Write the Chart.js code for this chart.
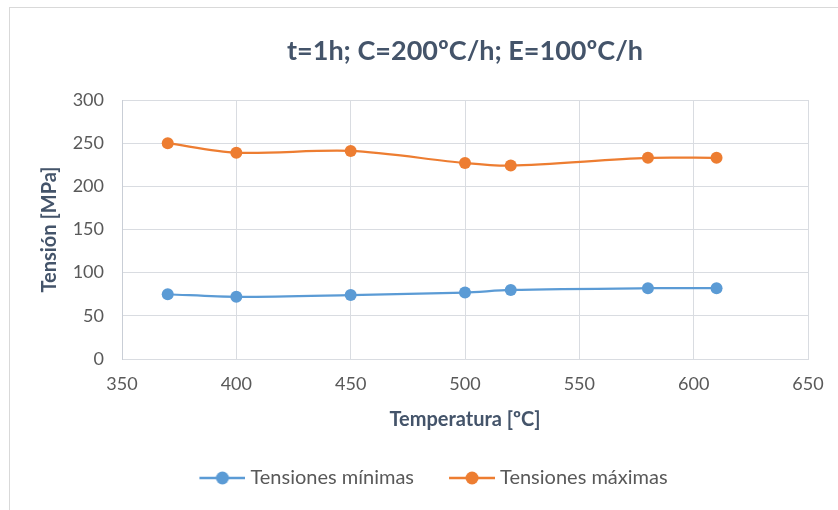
<!DOCTYPE html>
<html>
<head>
<meta charset="utf-8">
<script src="https://cdn.jsdelivr.net/npm/chart.js@4"></script>
<style>
  html, body { margin: 0; padding: 0; background: #fff; }
  #wrap { position: relative; width: 838px; height: 510px; }
  #frame { position: absolute; left: 9px; top: 7px; width: 840px; height: 510px; border: 1px solid #d9d9d9; box-sizing: border-box; pointer-events: none; }
</style>
</head>
<body>
<div id="wrap">
  <canvas id="chart" width="838" height="510"></canvas>
  <div id="frame"></div>
</div>
<script>
// temperaturas y tensiones
const temps = [370, 400, 450, 500, 520, 580, 610];
const tensMin = [75, 72, 74, 77, 80, 82, 82];
const tensMax = [250, 239, 241, 227, 224, 233, 233];

const chartTitle = "t=1h; C=200ºC/h; E=100ºC/h";
const blue = "#5b9bd5";
const orange = "#ed7d31";
const font = "Lato";
const gridColor = "#d9dce1";

// simbolo de leyenda: linea con circulo (con margen transparente a la izquierda)
const iconGap = 26;
function legendIcon(color) {
  const c = document.createElement("canvas");
  c.width = 46 + iconGap;
  c.height = 14;
  const g = c.getContext("2d");
  g.strokeStyle = color;
  g.lineWidth = 2.5;
  g.beginPath();
  g.moveTo(iconGap, 7);
  g.lineTo(iconGap + 46, 7);
  g.stroke();
  g.fillStyle = color;
  g.beginPath();
  g.arc(iconGap + 23, 7, 6.5, 0, Math.PI * 2);
  g.fill();
  return c;
}

function toPoints(xs, ys) {
  return xs.map((x, i) => ({ x: x, y: ys[i] }));
}

// titulo centrado sobre el area del grafico (como en Excel)
const titlePlugin = {
  id: "plotTitle",
  afterDraw(chart) {
    const c = chart.ctx;
    const a = chart.chartArea;
    c.save();
    c.font = "bold 27px " + font;
    c.fillStyle = "#44546a";
    c.textAlign = "center";
    c.textBaseline = "middle";
    c.fillText(chartTitle, (a.left + a.right) / 2, 51);
    c.restore();
  },
};

const ctx = document.getElementById("chart").getContext("2d");
new Chart(ctx, {
  type: "scatter",
  data: {
    datasets: [
      {
        label: "Tensiones mínimas",
        data: toPoints(temps, tensMin),
        showLine: true,
        borderColor: blue,
        backgroundColor: blue,
        borderWidth: 2.25,
        pointRadius: 6,
        pointBorderWidth: 0,
        pointHoverRadius: 6,
        tension: 0.3,
      },
      {
        label: "Tensiones máximas",
        data: toPoints(temps, tensMax),
        showLine: true,
        borderColor: orange,
        backgroundColor: orange,
        borderWidth: 2.25,
        pointRadius: 6,
        pointBorderWidth: 0,
        pointHoverRadius: 6,
        tension: 0.3,
      },
    ],
  },
  plugins: [titlePlugin],
  options: {
    responsive: false,
    animation: false,
    layout: { padding: { left: 38, right: 30, top: 100, bottom: 12 } },
    plugins: {
      title: { display: false },
      legend: {
        position: "bottom",
        labels: {
          color: "#595959",
          font: { family: font, size: 20 },
          usePointStyle: true,
          pointStyleWidth: 36 + iconGap,
          padding: 14,
          generateLabels: (chart) =>
            chart.data.datasets.map((ds, i) => ({
              text: ds.label,
              fillStyle: ds.borderColor,
              strokeStyle: ds.borderColor,
              fontColor: "#595959",
              pointStyle: legendIcon(ds.borderColor),
              datasetIndex: i,
              hidden: false,
              lineWidth: 0,
            })),
        },
      },
      tooltip: { enabled: false },
    },
    scales: {
      x: {
        type: "linear",
        min: 350,
        max: 650,
        ticks: { stepSize: 50, color: "#595959", font: { family: font, size: 18 }, padding: 14 },
        grid: { color: gridColor, lineWidth: 1, drawTicks: false },
        border: { color: gridColor },
        title: {
          display: true,
          text: "Temperatura [ºC]",
          color: "#44546a",
          font: { family: font, size: 20, weight: "bold" },
          padding: { top: 8, bottom: 22 },
        },
        afterFit: (s) => { s.height = 95; },
      },
      y: {
        min: 0,
        max: 300,
        ticks: { stepSize: 50, color: "#595959", font: { family: font, size: 18 }, padding: 18 },
        grid: { color: gridColor, lineWidth: 1, drawTicks: false },
        border: { color: "#c9ced6" },
        title: {
          display: true,
          text: "Tensión [MPa]",
          color: "#44546a",
          font: { family: font, size: 20, weight: "bold" },
          padding: { top: 0, bottom: 5 },
        },
        afterFit: (s) => { s.width = 84; },
      },
    },
  },
});
</script>
</body>
</html>
